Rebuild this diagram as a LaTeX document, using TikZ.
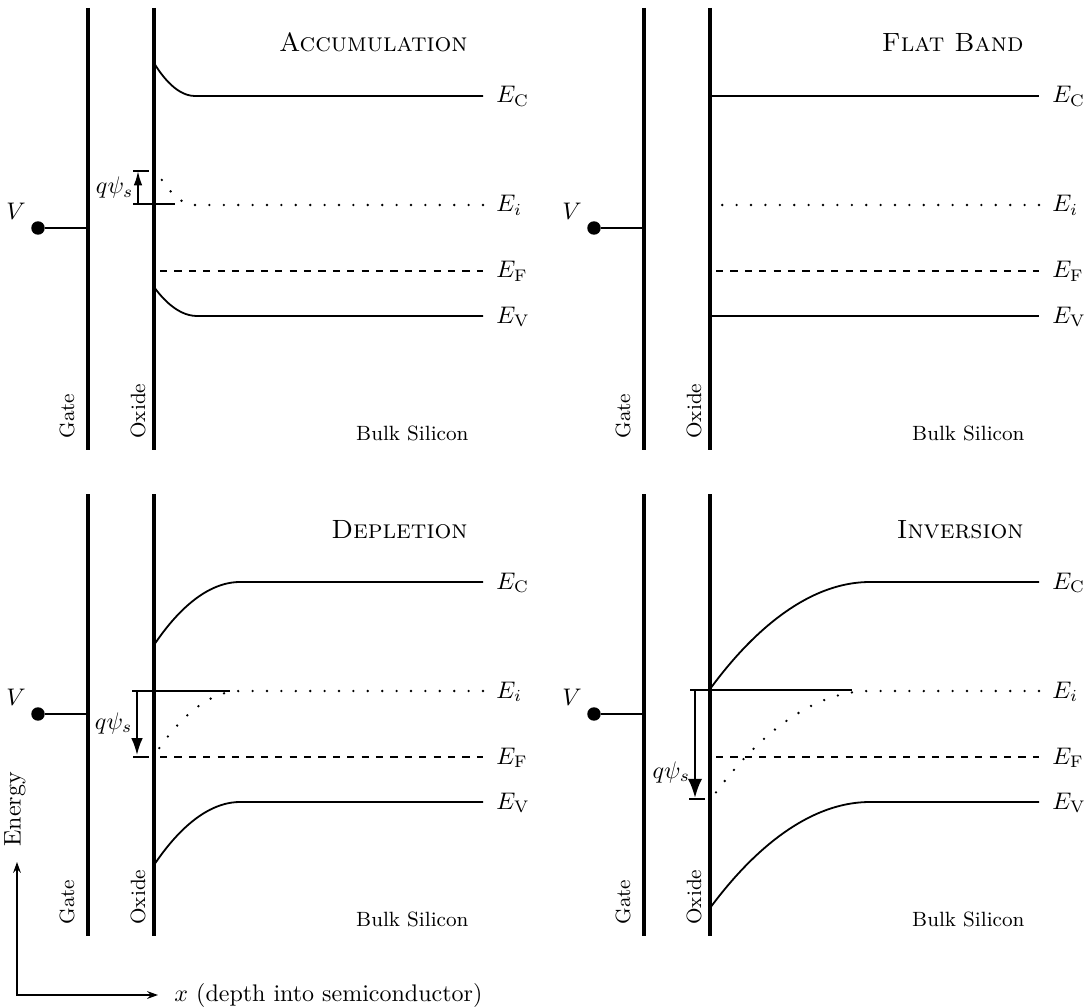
\documentclass[tikz,border=0pt]{standalone}
\usetikzlibrary{arrows.meta}
\begin{document}
\begin{tikzpicture}[
	x=0.4167pt, y=-0.4167pt,
	metal/.style={ line width=1.9pt },
	band/.style={ line width=0.75pt },
	intrinsic/.style={ line width=1.1pt, line cap=round, dash pattern=on 0pt off 6pt },
	fermi/.style={ band, dashed },
	psibar/.style={ line width=0.75pt },
	psi/.style={ line width=0.8pt, -{Latex[length=6pt,width=3.6pt]} },
	psibig/.style={ line width=1.1pt, -{Latex[length=8pt,width=6pt]} },
	vdot/.style={ circle, fill, inner sep=0pt, minimum size=5.6pt },
	tag/.style={ rotate=90, anchor=base west, inner sep=0pt, font=\fontsize{8.6}{10}\selectfont },
	paneltitle/.style={ anchor=base east, inner sep=0pt, font=\fontsize{11}{13}\selectfont\scshape },
	bulk/.style={ anchor=base east, inner sep=0pt, font=\fontsize{8.6}{10}\selectfont },
	bandlabel/.style={ anchor=base west, inner sep=0pt },
	axis/.style={ line width=0.6pt, {Stealth[length=4.5pt,width=3.2pt]}-{Stealth[length=4.5pt,width=3.2pt]} }
]
\useasboundingbox (0,0) rectangle (1084,1007);

% parts shared by the four panels: gate, oxide, contact, labels
\foreach \px/\py/\pn/\ptitle in {0/0/acc/Accumulation, 556/0/flat/Flat Band, 0/486/dep/Depletion, 556/486/inv/Inversion}{
\begin{scope}[shift={(\px,\py)}]
\coordinate (\pn-g0) at (88,8);
\coordinate (\pn-g1) at (88,450);
\coordinate (\pn-o0) at (154,8);
\coordinate (\pn-o1) at (154,450);
\coordinate (\pn-vg) at (88,228);
\node at (38,228) (\pn-v) [vdot] {};
\node at (16,211) (\pn-vl) {$V$};
\draw[metal] (\pn-g0) to (\pn-g1);
\draw[metal] (\pn-o0) to (\pn-o1);
\draw[band] (\pn-v) to (\pn-vg);
\node at (74,439) (\pn-gl) [tag] {Gate};
\node at (145,439) (\pn-ol) [tag] {Oxide};
\node at (469,440) (\pn-bulk) [bulk] {Bulk Silicon};
\node at (468,52) (\pn-title) [paneltitle] {\ptitle};
\coordinate (\pn-cE) at (483,96);
\coordinate (\pn-iE) at (483,205);
\coordinate (\pn-fE) at (483,271);
\coordinate (\pn-vE) at (483,316);
\node at (496,103) (\pn-lc) [bandlabel] {$E_{\mathrm{C}}$};
\node at (496,212) (\pn-li) [bandlabel] {$E_i$};
\node at (496,278) (\pn-lf) [bandlabel] {$E_{\mathrm{F}}$};
\node at (496,323) (\pn-lv) [bandlabel] {$E_{\mathrm{V}}$};
\end{scope}
}

% accumulation: bands bend up at the surface
\coordinate (acc-c0) at (154,63);
\coordinate (acc-c1) at (195,96);
\coordinate (acc-i0) at (157,172);
\coordinate (acc-i1) at (195,205);
\coordinate (acc-f0) at (160,271);
\coordinate (acc-v0) at (154,287);
\coordinate (acc-v1) at (197,316);
\draw[band] (acc-cE) to (acc-c1) parabola (acc-c0);
\draw[intrinsic] (acc-iE) to (acc-i1) parabola (acc-i0);
\draw[fermi] (acc-f0) to (acc-fE);
\draw[band] (acc-vE) to (acc-v1) parabola (acc-v0);
\coordinate (acc-p0) at (133,204);
\coordinate (acc-p1) at (175,204);
\coordinate (acc-p2) at (133,171);
\coordinate (acc-p3) at (149,171);
\coordinate (acc-a0) at (138,204);
\coordinate (acc-a1) at (138,171);
\draw[psibar] (acc-p0) to (acc-p1);
\draw[psibar] (acc-p2) to (acc-p3);
\draw[psi] (acc-a0) to node[left,inner sep=1.5pt] {$q\psi_s$} (acc-a1);

% flat band
\begin{scope}[shift={(556,0)}]
\coordinate (flat-c0) at (154,96);
\coordinate (flat-i0) at (160,205);
\coordinate (flat-f0) at (160,271);
\coordinate (flat-v0) at (154,316);
\end{scope}
\draw[band] (flat-c0) to (flat-cE);
\draw[intrinsic] (flat-iE) to (flat-i0);
\draw[fermi] (flat-f0) to (flat-fE);
\draw[band] (flat-v0) to (flat-vE);

% depletion
\begin{scope}[shift={(0,486)}]
\coordinate (dep-c0) at (154,159);
\coordinate (dep-c1) at (240,96);
\coordinate (dep-i0) at (158,264);
\coordinate (dep-i1) at (240,205);
\coordinate (dep-f0) at (160,271);
\coordinate (dep-v0) at (154,379);
\coordinate (dep-v1) at (240,316);
\coordinate (dep-p0) at (132,205);
\coordinate (dep-p1) at (230,205);
\coordinate (dep-p2) at (133,271);
\coordinate (dep-p3) at (149,271);
\coordinate (dep-a0) at (137,205);
\coordinate (dep-a1) at (137,269);
\end{scope}
\draw[band] (dep-cE) to (dep-c1) parabola (dep-c0);
\draw[intrinsic] (dep-iE) to (dep-i1) parabola (dep-i0);
\draw[fermi] (dep-f0) to (dep-fE);
\draw[band] (dep-vE) to (dep-v1) parabola (dep-v0);
\draw[psibar] (dep-p0) to (dep-p1);
\draw[psibar] (dep-p2) to (dep-p3);
\draw[psi,-{Latex[length=7pt,width=4.8pt]}] (dep-a0) to node[left,inner sep=1.5pt] {$q\psi_s$} (dep-a1);

% inversion
\begin{scope}[shift={(556,486)}]
\coordinate (inv-c0) at (154,203);
\coordinate (inv-c1) at (314,96);
\coordinate (inv-i0) at (158,309);
\coordinate (inv-i1) at (314,205);
\coordinate (inv-f0) at (160,271);
\coordinate (inv-v0) at (154,422);
\coordinate (inv-v1) at (314,316);
\coordinate (inv-p0) at (134,204);
\coordinate (inv-p1) at (296,204);
\coordinate (inv-p2) at (133,313);
\coordinate (inv-p3) at (149,313);
\coordinate (inv-a0) at (139,204);
\coordinate (inv-a1) at (139,312);
\end{scope}
\draw[band] (inv-cE) to (inv-c1) parabola (inv-c0);
\draw[intrinsic] (inv-iE) to (inv-i1) parabola (inv-i0);
\draw[fermi] (inv-f0) to (inv-fE);
\draw[band] (inv-vE) to (inv-v1) parabola (inv-v0);
\draw[psibar,line width=1pt] (inv-p0) to (inv-p1);
\draw[psibar] (inv-p2) to (inv-p3);
\draw[psibig] (inv-a0) to node[left,pos=0.76,inner sep=1.5pt] {$q\psi_s$} (inv-a1);

% axes
\coordinate (org) at (17,995);
\coordinate (ytop) at (17,862);
\coordinate (xend) at (158,995);
\draw[axis] (ytop) to (org) to (xend);
\node at (166,995) (xlab) [anchor=west] {$x$ (depth into semiconductor)};
\node at (15,847) (ylab) [rotate=90,anchor=west,inner sep=0pt] {Energy};

\end{tikzpicture}
\end{document}
